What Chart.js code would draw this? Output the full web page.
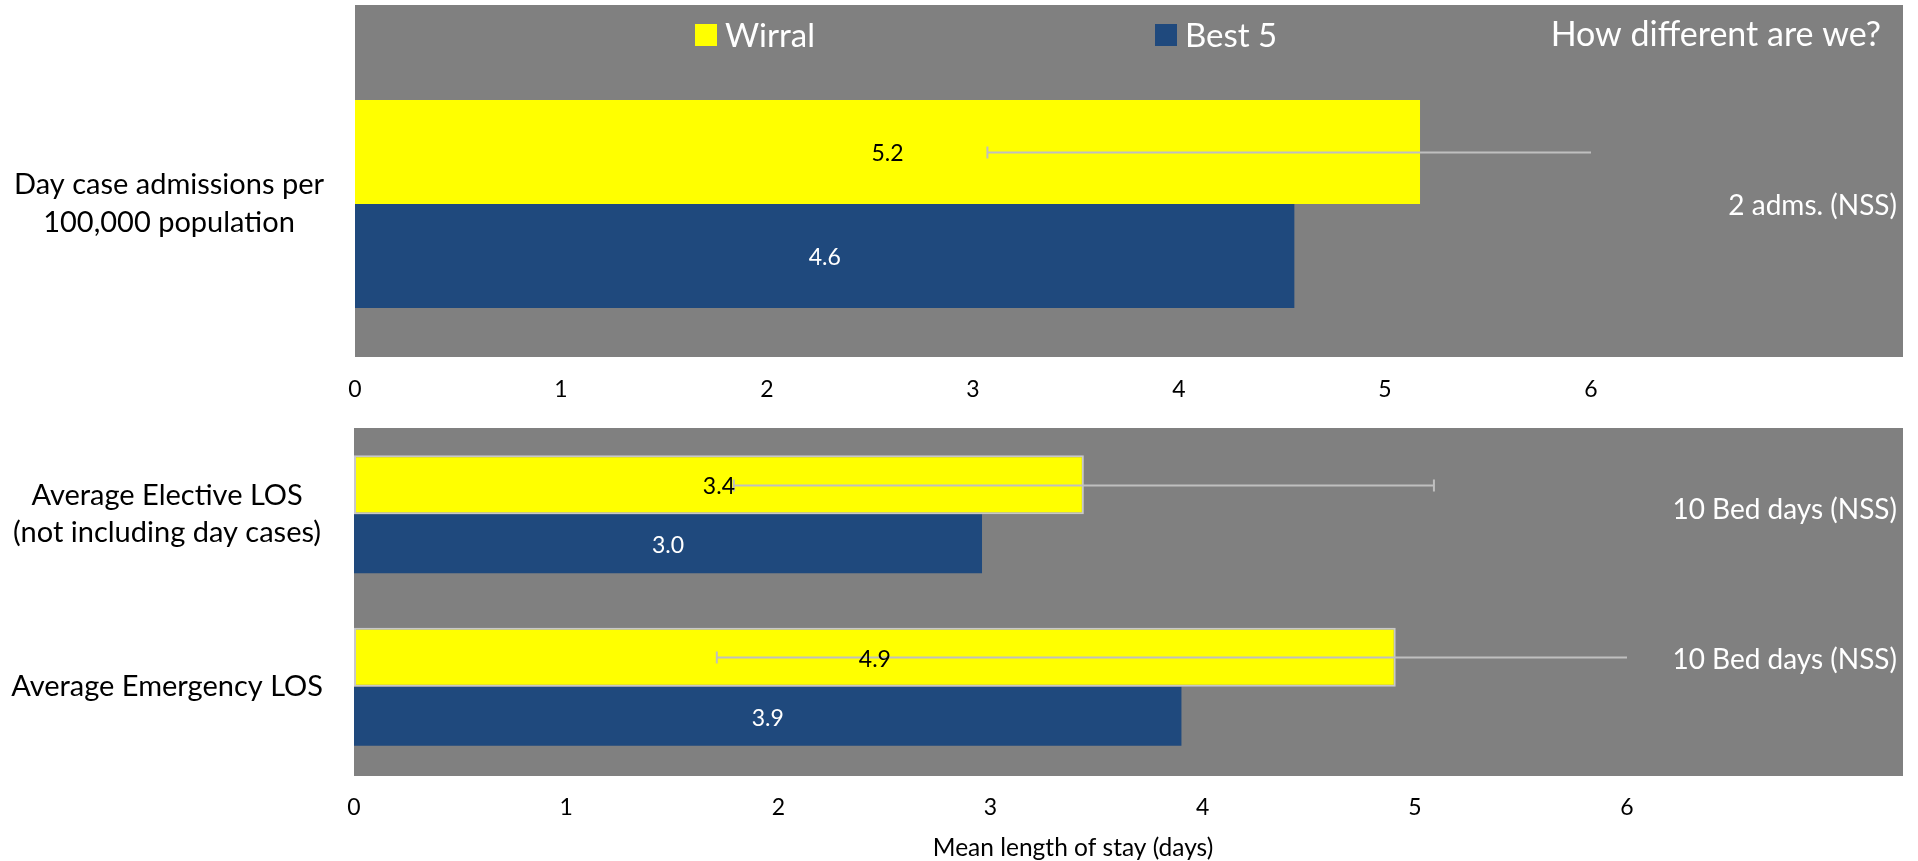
<!DOCTYPE html>
<html>
<head>
<meta charset="utf-8">
<script src="https://cdn.jsdelivr.net/npm/chart.js@4.4.0/dist/chart.umd.min.js"></script>
<style>
  html, body { margin: 0; padding: 0; background: #fff; }
  #wrap { position: relative; width: 1918px; height: 861px; }
  #topChart { position: absolute; left: 0; top: 0; }
  #bottomChart { position: absolute; left: 0; top: 420px; }
</style>
</head>
<body>
<div id="wrap">
  <canvas id="topChart" width="1918" height="420"></canvas>
  <canvas id="bottomChart" width="1918" height="441"></canvas>
</div>
<script>
// data
const seriesNames = ['Wirral', 'Best 5'];
const headerText = 'How different are we?';

const topCategories = [['Day case admissions per', '100,000 population']];
const topWirral = [5.17];
const topBest5 = [4.56];
const topWirralErr = [2.1];
const topNotes = ['2 adms. (NSS)'];

const bottomCategories = [['Average Elective LOS', '(not including day cases)'], 'Average Emergency LOS'];
const bottomWirral = [3.44, 4.91];
const bottomBest5 = [2.96, 3.9];
const bottomWirralErr = [1.65, 3.2];
const bottomNotes = ['10 Bed days (NSS)', '10 Bed days (NSS)'];

const xTitle = 'Mean length of stay (days)';
const xMin = 0, xMax = 6;

const FONT = 'Lato';
const GREY = '#808080';
const YELLOW = '#FFFF00';
const BLUE = '#1F497D';

// grey panel behind each chart, right-hand notes, legend and axis title
const decor = {
  id: 'decor',
  beforeDraw(chart, args, o) {
    const ctx = chart.ctx;
    ctx.save();
    ctx.fillStyle = GREY;
    ctx.fillRect(o.bg[0], o.bg[1], o.bg[2] - o.bg[0], o.bg[3] - o.bg[1]);
    ctx.restore();
  },
  afterDraw(chart, args, o) {
    const ctx = chart.ctx;
    ctx.save();
    ctx.fillStyle = '#fff';
    ctx.textAlign = 'right';
    ctx.textBaseline = 'middle';
    ctx.font = '28px ' + FONT;
    o.notes.forEach((t, i) => ctx.fillText(t, o.noteX, o.noteY[i]));
    if (o.legend) {
      const lg = o.legend;
      ctx.font = '33px ' + FONT;
      ctx.textAlign = 'left';
      chart.data.datasets.forEach((ds, i) => {
        ctx.fillStyle = ds.backgroundColor;
        ctx.fillRect(lg.x[i], lg.y - 11, 22, 22);
        ctx.fillStyle = '#fff';
        ctx.fillText(ds.label, lg.x[i] + 30, lg.y + 1);
      });
      ctx.font = '34px ' + FONT;
      ctx.textAlign = 'right';
      ctx.fillText(headerText, lg.headerX, lg.y);
    }
    if (o.title) {
      ctx.fillStyle = '#000';
      ctx.textAlign = 'center';
      ctx.font = '24.5px ' + FONT;
      ctx.fillText(o.title.text, o.title.x, o.title.y);
    }
    ctx.restore();
  }
};

// error bars on the Wirral series, then value labels in each bar
const barExtras = {
  id: 'barExtras',
  afterDatasetsDraw(chart, args, o) {
    const ctx = chart.ctx;
    const xs = chart.scales.x;
    ctx.save();
    const meta0 = chart.getDatasetMeta(0);
    ctx.strokeStyle = '#BFBFBF';
    ctx.lineWidth = 2;
    meta0.data.forEach((bar, i) => {
      const v = chart.data.datasets[0].data[i];
      const lo = v - o.errors[i], hi = v + o.errors[i];
      const pl = xs.getPixelForValue(Math.max(lo, xs.min));
      const ph = xs.getPixelForValue(Math.min(hi, xs.max));
      const y = Math.round(bar.y) + 0.5;
      ctx.beginPath();
      ctx.moveTo(pl, y); ctx.lineTo(ph, y);
      if (lo >= xs.min) { ctx.moveTo(pl, y - 6); ctx.lineTo(pl, y + 6); }
      if (hi <= xs.max) { ctx.moveTo(ph, y - 6); ctx.lineTo(ph, y + 6); }
      ctx.stroke();
    });
    ctx.font = '23px ' + FONT;
    ctx.textAlign = 'center';
    ctx.textBaseline = 'middle';
    chart.data.datasets.forEach((ds, di) => {
      ctx.fillStyle = ds.labelColor;
      chart.getDatasetMeta(di).data.forEach((bar, i) => {
        ctx.fillText(ds.data[i].toFixed(1), (bar.base + bar.x) / 2, bar.y + 2);
      });
    });
    ctx.restore();
  }
};

function makeChart(id, cats, wirral, best5, errs, o) {
  return new Chart(document.getElementById(id), {
    type: 'bar',
    data: {
      labels: cats,
      datasets: [{
        label: seriesNames[0],
        data: wirral,
        backgroundColor: YELLOW,
        borderColor: '#C8C8C8',
        borderWidth: o.yellowBorder,
        borderSkipped: false,
        labelColor: '#000'
      }, {
        label: seriesNames[1],
        data: best5,
        backgroundColor: BLUE,
        borderWidth: 0,
        labelColor: '#fff'
      }]
    },
    options: {
      indexAxis: 'y',
      responsive: false,
      animation: false,
      layout: { padding: { left: 0, right: o.padRight, top: o.padTop, bottom: 0 } },
      datasets: { bar: { barPercentage: 1, categoryPercentage: 0.684 } },
      scales: {
        x: {
          min: xMin, max: xMax,
          grid: { display: false, drawTicks: false },
          border: { display: false },
          ticks: { stepSize: 1, color: '#000', padding: o.tickPad, font: { family: FONT, size: 23 } },
          afterFit(s) { s.height = o.xHeight; }
        },
        y: {
          grid: { display: false, drawTicks: false },
          border: { display: false },
          ticks: {
            color: '#000', crossAlign: 'center', padding: o.labelPad,
            font: { family: FONT, size: 29, lineHeight: o.labelLine }
          },
          afterFit(s) { s.width = o.yWidth; s.paddingTop = 0; s.paddingBottom = 0; }
        }
      },
      plugins: {
        legend: { display: false },
        tooltip: { enabled: false },
        decor: o.decor,
        barExtras: { errors: errs }
      }
    },
    plugins: [decor, barExtras]
  });
}

makeChart('topChart', topCategories, topWirral, topBest5, topWirralErr, {
  yellowBorder: 0,
  padRight: 1918 - 1591,
  padTop: 52,
  xHeight: 420 - 356,
  yWidth: 355,
  tickPad: 20,
  labelPad: 31,
  labelLine: 1.31,
  decor: {
    bg: [355, 5, 1903, 357],
    notes: topNotes, noteX: 1897, noteY: [206],
    legend: { x: [695, 1155], y: 35, headerX: 1881 }
  }
});

makeChart('bottomChart', bottomCategories, bottomWirral, bottomBest5, bottomWirralErr, {
  yellowBorder: 2,
  padRight: 1918 - 1627,
  padTop: 8,
  xHeight: 441 - 353,
  yWidth: 354,
  tickPad: 21,
  labelPad: 31,
  labelLine: 1.26,
  decor: {
    bg: [354, 8, 1903, 356],
    notes: bottomNotes, noteX: 1897, noteY: [90, 240],
    title: { text: xTitle, x: 1073, y: 428 }
  }
});
</script>
</body>
</html>
